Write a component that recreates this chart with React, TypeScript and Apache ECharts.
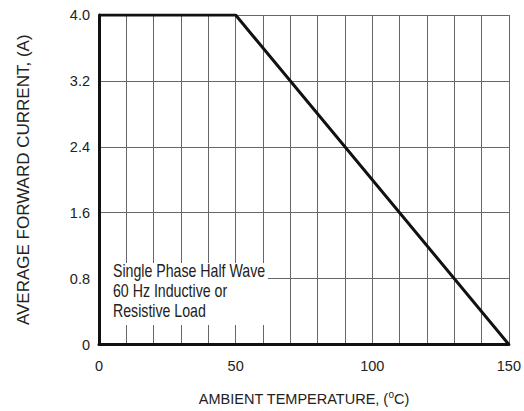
import React, { useEffect, useRef } from "react";
import * as echarts from "echarts";

const temps = [0, 50, 150];
const currents = [4.0, 4.0, 0];
const xTickLabels = [0, 50, 100, 150];
const noteLines = ["Single Phase Half Wave", "60 Hz Inductive or", "Resistive Load"];

const FONT = "'Liberation Sans', Arial, sans-serif";

export default function App() {
  const ref = useRef<HTMLDivElement>(null);
  useEffect(() => {
    if (!ref.current) return;
    const chart = echarts.init(ref.current, undefined, { renderer: "svg" });
    chart.setOption({
      animation: false,
      backgroundColor: "#ffffff",
      textStyle: { fontFamily: FONT },
      grid: { left: 99, right: 15, top: 15, bottom: 63, containLabel: false },
      xAxis: {
        type: "value",
        min: 0,
        max: 150,
        interval: 10,
        name: "AMBIENT TEMPERATURE, ({sup|o}C)",
        nameLocation: "middle",
        nameGap: 45,
        nameTextStyle: {
          fontFamily: FONT,
          fontSize: 14.5,
          color: "#222",
          rich: {
            sup: { fontSize: 10, verticalAlign: "top", padding: [0, 0, 8, 0], color: "#222", fontFamily: FONT },
          },
        },
        axisLine: { show: true, lineStyle: { color: "#111", width: 3 } },
        axisTick: { show: false },
        axisLabel: {
          margin: 14,
          fontSize: 14.5,
          color: "#222",
          fontFamily: FONT,
          formatter: (v: number) => (xTickLabels.includes(v) ? String(v) : ""),
        },
        splitLine: { show: true, lineStyle: { color: "#666", width: 1 } },
      },
      yAxis: {
        type: "value",
        min: 0,
        max: 4,
        interval: 0.8,
        name: "AVERAGE FORWARD CURRENT, (A)",
        nameLocation: "middle",
        nameGap: 67,
        nameTextStyle: { fontFamily: FONT, fontSize: 17, color: "#222" },
        axisLine: { show: true, lineStyle: { color: "#111", width: 3 } },
        axisTick: { show: false },
        axisLabel: {
          margin: 9,
          fontSize: 14.5,
          color: "#222",
          fontFamily: FONT,
          formatter: (v: number) => (v === 0 ? "0" : v.toFixed(1)),
        },
        splitLine: { show: true, lineStyle: { color: "#666", width: 1 } },
      },
      graphic: [
        {
          type: "rect",
          shape: { x: 101, y: 263, width: 167, height: 62 },
          style: { fill: "#ffffff" },
          z: 10,
        },
        ...noteLines.map((t, i) => ({
          type: "text",
          x: 113,
          y: 280 + i * 20,
          scaleX: 0.81,
          z: 11,
          style: {
            text: t,
            fontFamily: FONT,
            fontSize: 17.5,
            fill: "#222",
            textVerticalAlign: "bottom",
          },
        })),
      ],
      series: [
        {
          type: "line",
          data: temps.map((t, i) => [t, currents[i]]),
          symbol: "none",
          lineStyle: { color: "#111", width: 3 },
          z: 5,
        },
      ],
    });
    return () => chart.dispose();
  }, []);
  return <div ref={ref} style={{ width: 524, height: 411, position: "absolute", left: 0, top: 0 }} />;
}
